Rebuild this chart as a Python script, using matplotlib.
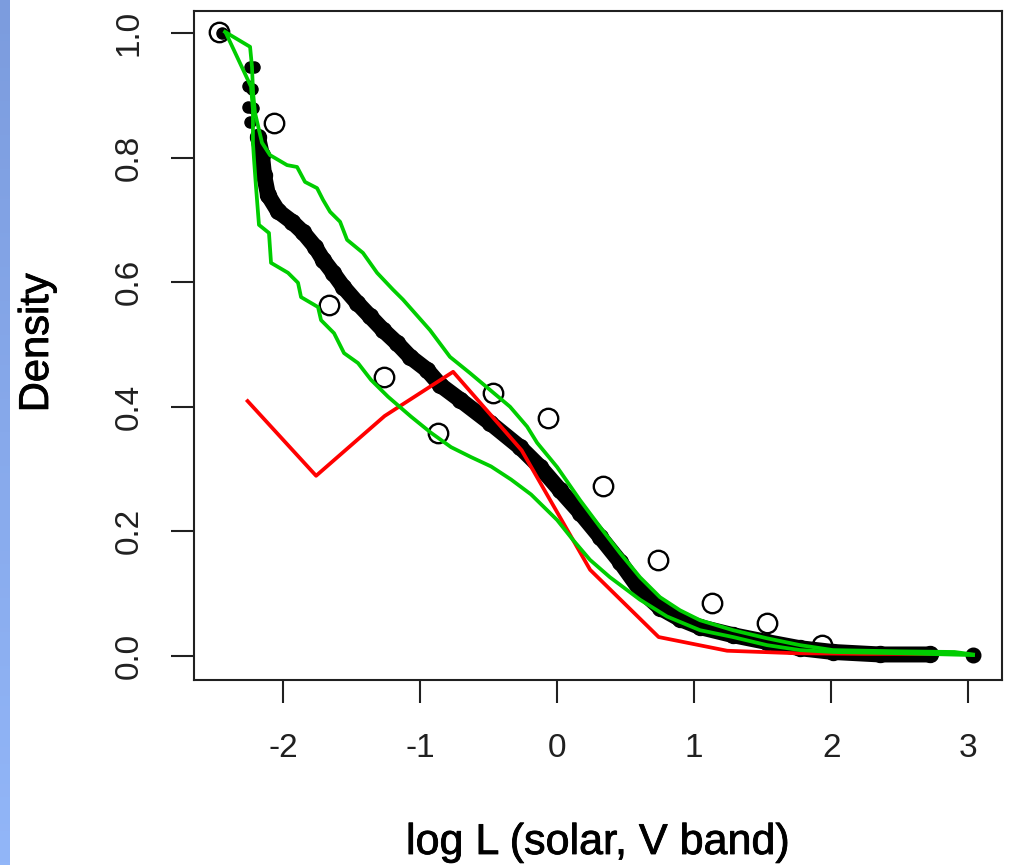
import numpy as np
import matplotlib.pyplot as plt
import matplotlib.patheffects as pe
from matplotlib.colors import LinearSegmentedColormap

# Empirical density: dense run of points (drawn as a thick band)
x_dense = [-2.184, -2.155, -2.140, -2.111, -2.038, -1.936, -1.855, -1.768, -1.709,
           -1.636, -1.564, -1.461, -1.366, -1.271, -1.169, -1.074, -0.950, -0.855,
           -0.709, -0.490, -0.272, -0.125, 0.020, 0.166, 0.312, 0.458, 0.604, 0.750,
           0.896, 1.042, 1.283, 1.531, 1.772, 2.013, 2.356, 2.721]
y_dense = [0.833, 0.804, 0.772, 0.740, 0.714, 0.697, 0.680, 0.657, 0.636,
           0.615, 0.593, 0.567, 0.545, 0.523, 0.502, 0.480, 0.459, 0.435,
           0.411, 0.374, 0.335, 0.303, 0.266, 0.230, 0.191, 0.151, 0.106, 0.077,
           0.059, 0.046, 0.033, 0.022, 0.012, 0.006, 0.002, 0.002]

# isolated points of the empirical density
x_sparse = [-2.447, -2.240, -2.210, -2.260, -2.225, -2.258, -2.220, -2.245]
y_sparse = [1.000, 0.945, 0.945, 0.915, 0.910, 0.882, 0.880, 0.857]
x_last = [3.035]
y_last = [0.001]

# binned estimate (open circles)
x_bins = [-2.467, -2.067, -1.667, -1.267, -0.867, -0.467, -0.067, 0.333, 0.733, 1.133, 1.533, 1.933]
y_bins = [1.002, 0.856, 0.563, 0.448, 0.358, 0.422, 0.382, 0.273, 0.153, 0.085, 0.052, 0.017]

# frequency polygon (red)
x_poly = [-2.26, -1.76, -1.26, -0.76, -0.26, 0.24, 0.74, 1.24, 1.74, 2.24, 2.74]
y_poly = [0.409, 0.289, 0.385, 0.456, 0.330, 0.138, 0.030, 0.008, 0.004, 0.003, 0.003]

# upper envelope (green)
x_up = [-2.425, -2.242, -2.228, -2.220, -2.206, -2.155, -2.096, -1.972, -1.899, -1.841,
        -1.753, -1.709, -1.658, -1.585, -1.534, -1.418, -1.315, -1.199, -1.126, -0.929,
        -0.783, -0.637, -0.491, -0.345, -0.220, -0.147, -0.001, 0.166, 0.312, 0.458,
        0.604, 0.750, 0.896, 1.042, 1.283, 1.531, 1.772, 2.013, 2.502, 2.900, 3.035]
y_up = [1.002, 0.978, 0.946, 0.904, 0.872, 0.824, 0.804, 0.788, 0.785, 0.761,
        0.751, 0.732, 0.713, 0.697, 0.668, 0.647, 0.615, 0.588, 0.572, 0.523,
        0.480, 0.454, 0.427, 0.400, 0.368, 0.342, 0.303, 0.250, 0.207, 0.165,
        0.126, 0.094, 0.073, 0.057, 0.041, 0.028, 0.017, 0.009, 0.007, 0.006, 0.002]

# lower envelope (green)
x_lo = [-2.418, -2.286, -2.235, -2.221, -2.221, -2.213, -2.199, -2.177, -2.104, -2.089,
        -1.965, -1.892, -1.870, -1.746, -1.724, -1.629, -1.556, -1.454, -1.359, -1.235,
        -1.067, -0.921, -0.775, -0.629, -0.483, -0.337, -0.191, -0.001, 0.115, 0.239,
        0.385, 0.604, 0.801, 1.042, 1.283, 1.531, 1.772, 2.013, 2.502, 3.035]
y_lo = [1.000, 0.938, 0.914, 0.877, 0.824, 0.797, 0.754, 0.692, 0.679, 0.631,
        0.615, 0.599, 0.576, 0.560, 0.539, 0.518, 0.486, 0.470, 0.443, 0.416,
        0.384, 0.358, 0.335, 0.319, 0.304, 0.283, 0.259, 0.218, 0.186, 0.154,
        0.126, 0.090, 0.063, 0.041, 0.030, 0.017, 0.009, 0.006, 0.004, 0.001]

x_ticks = [-2, -1, 0, 1, 2, 3]
y_ticks = [0.0, 0.2, 0.4, 0.6, 0.8, 1.0]

plt.rcParams['font.family'] = ['Liberation Sans', 'DejaVu Sans']

fig = plt.figure(figsize=(10.09, 8.65), dpi=100)

# blue strip on the left edge
strip = fig.add_axes([0, 0, 10 / 1009, 1])
grad = np.linspace(0, 1, 256).reshape(-1, 1)
cm = LinearSegmentedColormap.from_list('strip', ['#7C9CDE', '#92B6F8'])
strip.imshow(grad, aspect='auto', cmap=cm, origin='upper')
strip.axis('off')

ax = fig.add_axes([194.3 / 1009, 1 - 680 / 865, (1001.7 - 194.3) / 1009, (680 - 10.7) / 865])

ax.plot(x_dense, y_dense, color='black', lw=11.5, solid_capstyle='round',
        solid_joinstyle='round', zorder=2)
ax.plot(x_dense, y_dense, 'o', color='black', ms=11.5, zorder=2)
ax.plot(x_sparse, y_sparse, 'o', color='black', ms=8, zorder=2)
ax.plot(x_last, y_last, 'o', color='black', ms=10.5, zorder=2)
ax.plot(x_bins, y_bins, 'o', mfc='none', mec='black', mew=1.7, ms=14, zorder=3)
ax.plot(x_poly, y_poly, color='#FF0000', lw=2.7, zorder=4)
ax.plot(x_up, y_up, color='#00CD00', lw=2.7, zorder=4)
ax.plot(x_lo, y_lo, color='#00CD00', lw=2.7, zorder=4)

ax.set_xlim(-2.649, 3.244)
ax.set_ylim(-0.039, 1.036)
ax.set_xticks(x_ticks)
ax.set_xticklabels([str(t) for t in x_ticks])
ax.set_yticks(y_ticks)
ax.set_yticklabels(['%.1f' % t for t in y_ticks])

for s in ax.spines.values():
    s.set_linewidth(1.5)
    s.set_color('#202020')
ax.tick_params(axis='both', length=16.5, width=1.5, color='#202020', labelsize=24,
               labelcolor='#202020')
ax.tick_params(axis='x', pad=22)
ax.tick_params(axis='y', pad=19, labelrotation=90)
for lab in ax.get_yticklabels():
    lab.set_va('center')

thick = [pe.withStroke(linewidth=0.6, foreground='black')]
fig.text(597.5 / 1009, 1 - 843 / 865, 'log L (solar, V band)', fontsize=31,
         ha='center', va='center', path_effects=thick)
fig.text(37 / 1009, 1 - 343 / 865, 'Density', fontsize=30, rotation=90,
         ha='center', va='center', path_effects=thick)

fig.savefig('out.png', dpi=100)
